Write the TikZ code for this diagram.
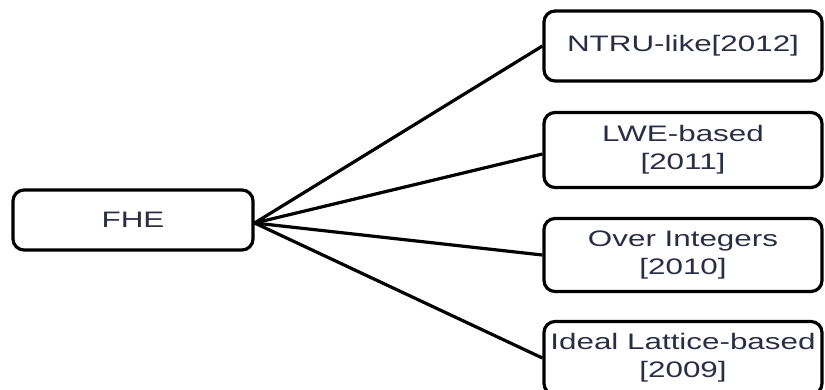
\documentclass[tikz,border=0pt]{standalone}
\usepackage{fontspec}
\setmainfont{Liberation Sans}[FakeStretch=1.4]
\definecolor{labelink}{RGB}{42,45,70}
\begin{document}
\begin{tikzpicture}[x=1bp,y=-1bp,
  box/.style={draw=black, line width=3.2bp, rounded corners=11bp, fill=white,
    text=labelink, font=\fontsize{22.5}{28}\selectfont, align=center,
    inner sep=0pt, anchor=center},
  link/.style={draw=black, line width=3.2bp}]
  \useasboundingbox (0,0) rectangle (825,389);
  \clip (0,0) rectangle (825,389);
  % root
  \node[box, minimum width=240bp, minimum height=60bp] (fhe) at (133,220) {FHE};
  % branches
  \node[box, minimum width=278bp, minimum height=70bp] (ntru) at (683,46) {NTRU-like[2012]};
  \node[box, minimum width=278bp, minimum height=75bp] (lwe) at (683,150) {LWE-based\\{}[2011]};
  \node[box, minimum width=278bp, minimum height=73bp] (ovr) at (683,255) {Over Integers\\{}[2010]};
  \node[box, minimum width=278bp, minimum height=73bp] (ideal) at (683,358) {Ideal Lattice-based\\{}[2009]};
  % connectors
  \coordinate (hub) at ([yshift=-3bp]fhe.east);
  \draw[link] (hub) -- (ntru.west);
  \draw[link] (hub) -- ([yshift=-4bp]lwe.west);
  \draw[link] (hub) -- (ovr.west);
  \draw[link] (hub) -- (ideal.west);
\end{tikzpicture}
\end{document}
